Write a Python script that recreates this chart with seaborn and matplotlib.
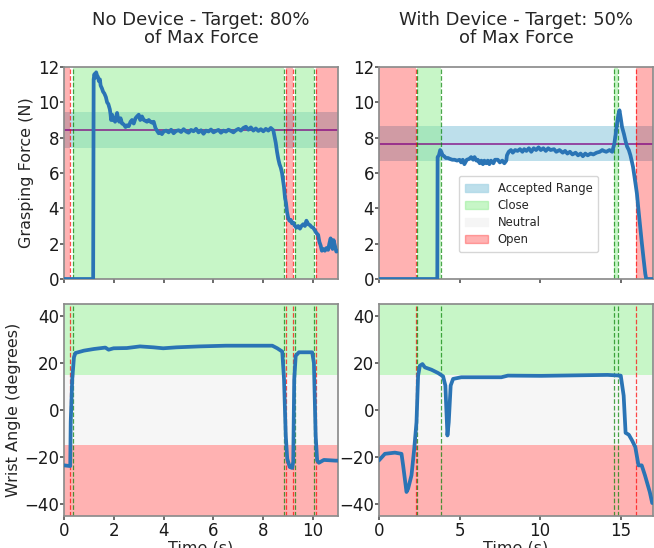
import matplotlib
matplotlib.use("Agg")
import matplotlib.pyplot as plt
import matplotlib.patches as mpatches
import seaborn as sns
import numpy as np
import pandas as pd

# ---------------- data ----------------
titles = ["No Device - Target: 80%\nof Max Force", "With Device - Target: 50%\nof Max Force"]
xmax = [11, 17]
targets = [8.43, 7.66]
band_half = [1.0, 1.0]

force_t_nd = [0, 1.17, 1.19, 1.22, 1.26, 1.29, 1.33, 1.36, 1.40, 1.44, 1.47, 1.52, 1.57, 1.62, 1.68,
              1.73, 1.78, 1.84, 1.87, 1.89, 1.93, 1.97, 2.00, 2.05, 2.10, 2.13, 2.18, 2.22, 2.27, 2.33,
              2.40, 2.47, 2.53, 2.60, 2.67, 2.73, 2.80, 2.87, 2.93, 3.00, 3.06, 3.13, 3.20, 3.27, 3.33,
              3.40, 3.47, 3.53, 3.60, 3.67, 3.73, 3.80, 3.87, 3.93, 4.00,
              4.1, 4.2, 4.3, 4.4, 4.5, 4.6, 4.7, 4.8, 4.9, 5.0, 5.1, 5.2, 5.3, 5.4, 5.5, 5.6, 5.7, 5.8,
              5.9, 6.0, 6.1, 6.2, 6.3, 6.4, 6.5, 6.6, 6.7, 6.8, 6.9, 7.0, 7.1, 7.2, 7.3, 7.4, 7.5, 7.6,
              7.7, 7.8, 7.9, 8.0, 8.1, 8.2, 8.3, 8.4,
              8.5, 8.55, 8.6, 8.65, 8.7, 8.75, 8.8, 8.83, 8.87, 8.91, 8.95, 9.0, 9.05, 9.1, 9.15, 9.2,
              9.27, 9.33, 9.4, 9.47, 9.53, 9.6, 9.67, 9.73, 9.8, 9.87, 9.93, 10.0, 10.07, 10.13, 10.2,
              10.25, 10.3, 10.35, 10.4, 10.47, 10.53, 10.6, 10.65, 10.7, 10.73, 10.78, 10.82, 10.87,
              10.93, 11.0]
force_v_nd = [0, 0, 11.3, 11.6, 11.4, 11.7, 11.5, 11.45, 11.2, 11.3, 10.95, 10.8, 10.6, 10.5, 10.3,
              10.0, 9.9, 9.6, 9.3, 9.0, 9.3, 9.0, 9.1, 8.9, 9.2, 9.4, 9.0, 8.9, 9.1, 8.8,
              8.75, 8.6, 8.7, 8.65, 8.9, 9.0, 8.8, 9.1, 9.2, 9.3, 9.0, 9.2, 9.0, 8.95, 8.9,
              9.0, 8.9, 8.85, 8.9, 8.55, 8.4, 8.25, 8.3, 8.2, 8.35,
              8.40, 8.30, 8.45, 8.25, 8.38, 8.42, 8.32, 8.48, 8.35, 8.28, 8.44, 8.36, 8.50, 8.30, 8.42,
              8.22, 8.40, 8.35, 8.46, 8.30, 8.38, 8.44, 8.28, 8.40, 8.34, 8.45, 8.38, 8.30, 8.42, 8.50,
              8.40, 8.55, 8.62, 8.45, 8.58, 8.40, 8.52, 8.38, 8.48, 8.36, 8.50, 8.40, 8.55, 8.42,
              7.7, 7.2, 6.8, 6.5, 6.3, 6.0, 5.5, 5.2, 4.6, 4.3, 3.8, 3.45, 3.3, 3.35, 3.15, 3.2,
              3.0, 2.9, 3.0, 2.85, 3.0, 3.1, 3.0, 3.3, 3.1, 3.05, 2.95, 2.9, 2.75, 2.6, 2.5,
              2.1, 1.9, 1.6, 1.7, 1.6, 1.75, 1.65, 2.0, 2.3, 2.1, 1.7, 2.2, 1.9,
              1.55, 1.6]

force_t_wd = [0, 3.62, 3.64, 3.72, 3.80, 3.87, 3.95, 4.05, 4.15, 4.28, 4.4, 4.55, 4.69, 4.85, 5.0,
              5.1, 5.2, 5.3, 5.45, 5.6, 5.72, 5.85, 5.93, 6.05, 6.13, 6.25, 6.35, 6.45, 6.54, 6.65,
              6.75, 6.85, 6.95, 7.1, 7.2, 7.37, 7.5, 7.65, 7.78, 7.9, 7.94, 8.05, 8.19, 8.3, 8.45,
              8.6, 8.75, 8.9, 9.01, 9.15, 9.3, 9.45, 9.6, 9.75, 9.9, 10.04, 10.2, 10.35, 10.5, 10.65,
              10.86, 11.0, 11.2, 11.4, 11.55, 11.69, 11.85, 12.0, 12.2, 12.35, 12.51, 12.65, 12.8,
              12.95, 13.13, 13.3, 13.5, 13.7, 13.85, 13.95, 14.1, 14.3, 14.47, 14.6, 14.7, 14.77,
              14.85, 14.92, 15.0, 15.08, 15.2, 15.3, 15.39, 15.5, 15.6, 15.7, 15.76, 15.85, 15.93,
              16.0, 16.1, 16.2, 16.3, 16.42, 16.52, 16.58, 17.0]
force_v_wd = [0, 0, 6.9, 7.0, 7.3, 7.2, 7.0, 6.95, 6.85, 6.85, 6.8, 6.75, 6.75, 6.7, 6.75,
              6.6, 6.75, 6.5, 6.75, 6.8, 6.9, 6.75, 6.9, 6.7, 6.75, 6.55, 6.7, 6.5, 6.7, 6.55,
              6.7, 6.5, 6.7, 6.55, 6.75, 6.75, 6.6, 6.7, 6.55, 6.7, 7.0, 7.2, 7.3, 7.15, 7.3,
              7.25, 7.35, 7.2, 7.35, 7.25, 7.4, 7.2, 7.4, 7.3, 7.45, 7.3, 7.4, 7.25, 7.4, 7.3,
              7.35, 7.2, 7.3, 7.15, 7.25, 7.1, 7.2, 7.05, 7.15, 7.0, 7.1, 6.95, 7.1,
              7.0, 7.1, 7.05, 7.15, 7.2, 7.3, 7.25, 7.2, 7.3, 7.2, 7.65, 8.3, 8.8,
              9.3, 9.55, 9.1, 8.6, 8.2, 7.8, 7.5, 7.3, 7.0, 6.6, 6.35, 5.8, 5.3,
              4.85, 3.9, 3.0, 2.1, 1.1, 0.3, 0, 0]

wrist_t_nd = [0, 0.25, 0.27, 0.33, 0.40, 0.46, 0.8, 1.2, 1.66, 1.79, 1.99, 2.52, 3.05, 3.59, 3.98,
              4.51, 5.44, 6.5, 7.83, 8.36, 8.56, 8.76, 8.83, 8.90, 8.96, 9.06, 9.16, 9.20, 9.24,
              9.30, 9.43, 9.96, 10.03, 10.10, 10.16, 10.23, 10.43, 10.9, 11.0]
wrist_v_nd = [-23.5, -23.8, -5, 13, 22.4, 24.2, 25.2, 25.9, 26.5, 25.6, 26.2, 26.3, 27.0, 26.6, 26.2,
              26.6, 27.0, 27.3, 27.3, 27.3, 26.2, 24.8, 13.2, -10.8, -20.7, -24.2, -24.6, -22.0, 13.0,
              23.0, 24.5, 24.5, 20.0, -10.8, -21.4, -22.4, -21.2, -21.5, -21.5]

wrist_t_wd = [0, 0.37, 0.99, 1.4, 1.5, 1.71, 1.81, 2.02, 2.19, 2.33, 2.43, 2.54, 2.7, 2.85, 3.26,
              3.67, 3.98, 4.12, 4.25, 4.33, 4.45, 4.6, 5.11, 7.59, 8.0, 10.06, 14.18, 15.0, 15.18,
              15.3, 15.5, 15.7, 15.9, 16.1, 16.3, 16.5, 16.8, 16.95]
wrist_v_wd = [-21.4, -18.6, -18.1, -18.6, -23.5, -34.8, -33.4, -27.7, -16.4, -5.2, 14.6, 18.8, 19.5,
              18.1, 17.1, 15.7, 14.3, 10.4, -10.8, -5.2, 10.4, 13.2, 13.9, 13.9, 14.6, 14.5, 14.9,
              14.6, 6.1, -9.7, -10.5, -12.9, -15.7, -23.5, -23.5, -27.7, -34.8, -39.5]

red_spans = [[(0, 0.24), (8.93, 9.19), (10.1, 11)], [(0, 2.27), (15.93, 17)]]
green_spans = [[(0.37, 8.84), (9.27, 10.04)], [(2.39, 3.87), (14.59, 14.80)]]
red_marks = [[0.24, 8.93, 9.19, 10.1], [2.27, 15.93]]
green_marks = [[0.37, 8.84, 9.27, 10.04], [2.39, 3.87, 14.59, 14.80]]

force_ticks = [0, 2, 4, 6, 8, 10, 12]
angle_ticks = [-40, -20, 0, 20, 40]
xticks = [[0, 2, 4, 6, 8, 10], [0, 5, 10, 15]]

# ---------------- style ----------------
sns.set_theme(style="ticks")
plt.rcParams["font.family"] = ["DejaVu Sans"]
plt.rcParams["axes.edgecolor"] = "0.55"
plt.rcParams["xtick.color"] = "0.35"
plt.rcParams["ytick.color"] = "0.35"
plt.rcParams["xtick.labelcolor"] = "0.1"
plt.rcParams["ytick.labelcolor"] = "0.1"
plt.rcParams["xtick.major.size"] = 3
plt.rcParams["ytick.major.size"] = 3
plt.rcParams["xtick.major.pad"] = 1.5
plt.rcParams["ytick.major.pad"] = 0.5
FS = 11.5

GREEN = "#90ee90"
RED = "red"
BAND = "#add8e6"
NEUTRAL = "whitesmoke"
LINE = "#2a74b5"

fig, axes = plt.subplots(2, 2, figsize=(6.54, 5.48), dpi=100, sharex="col")
fig.subplots_adjust(left=64/654, right=653/654, top=1-67/548, bottom=1-516/548,
                    wspace=41/275, hspace=25/212)

force_data = [pd.DataFrame({"t": force_t_nd, "f": force_v_nd}),
              pd.DataFrame({"t": force_t_wd, "f": force_v_wd})]
wrist_data = [pd.DataFrame({"t": wrist_t_nd, "a": wrist_v_nd}),
              pd.DataFrame({"t": wrist_t_wd, "a": wrist_v_wd})]

for c in range(2):
    ax = axes[0, c]
    ax.axhspan(targets[c] - band_half[c], targets[c] + band_half[c], color=BAND, alpha=0.8, lw=0, zorder=0)
    for a, b in red_spans[c]:
        ax.axvspan(a, b, color=RED, alpha=0.3, lw=0, zorder=1)
    for a, b in green_spans[c]:
        ax.axvspan(a, b, color=GREEN, alpha=0.5, lw=0, zorder=1)
    ax.axhline(targets[c], color="purple", lw=1.2, alpha=0.8, zorder=2)
    for x in red_marks[c]:
        ax.axvline(x, color="red", ls="--", lw=0.9, alpha=0.7, zorder=2)
    for x in green_marks[c]:
        ax.axvline(x, color="green", ls="--", lw=0.9, alpha=0.7, zorder=2)
    sns.lineplot(data=force_data[c], x="t", y="f", ax=ax, color=LINE, lw=2.7,
                 estimator=None, sort=False, zorder=3)
    ax.set_ylim(0, 12)
    ax.set_yticks(force_ticks)
    ax.set_xlim(0, xmax[c])
    ax.set_title(titles[c], fontsize=FS + 1.5, pad=17, linespacing=1.05)
    ax.set_xlabel("")
    ax.set_ylabel("Grasping Force (N)" if c == 0 else "", fontsize=FS, labelpad=3)
    ax.tick_params(labelsize=12)

    ax = axes[1, c]
    ax.axhspan(15, 45, color=GREEN, alpha=0.5, lw=0, zorder=0)
    ax.axhspan(-15, 15, color=NEUTRAL, alpha=0.9, lw=0, zorder=0)
    ax.axhspan(-45, -15, color=RED, alpha=0.3, lw=0, zorder=0)
    for x in red_marks[c]:
        ax.axvline(x, color="red", ls="--", lw=0.9, alpha=0.7, zorder=2)
    for x in green_marks[c]:
        ax.axvline(x, color="green", ls="--", lw=0.9, alpha=0.7, zorder=2)
    sns.lineplot(data=wrist_data[c], x="t", y="a", ax=ax, color=LINE, lw=2.7,
                 estimator=None, sort=False, zorder=3)
    ax.set_ylim(-45, 45)
    ax.set_yticks(angle_ticks)
    ax.set_xlim(0, xmax[c])
    ax.set_xticks(xticks[c])
    ax.set_xlabel("Time (s)", fontsize=FS, labelpad=0)
    ax.set_ylabel("Wrist Angle (degrees)" if c == 0 else "", fontsize=FS, labelpad=2)
    ax.tick_params(labelsize=12)

handles = [mpatches.Patch(color=BAND, alpha=0.8, label="Accepted Range"),
           mpatches.Patch(color=GREEN, alpha=0.5, label="Close"),
           mpatches.Patch(color=NEUTRAL, label="Neutral"),
           mpatches.Patch(color=RED, alpha=0.3, label="Open")]
axes[0, 1].legend(handles=handles, loc="lower center", bbox_to_anchor=(0.546, 0.127),
                  borderaxespad=0, fontsize=8.4, frameon=True, framealpha=0.8, borderpad=0.5,
                  handlelength=2.0, labelspacing=0.35)

fig.savefig("out.png", dpi=100)
